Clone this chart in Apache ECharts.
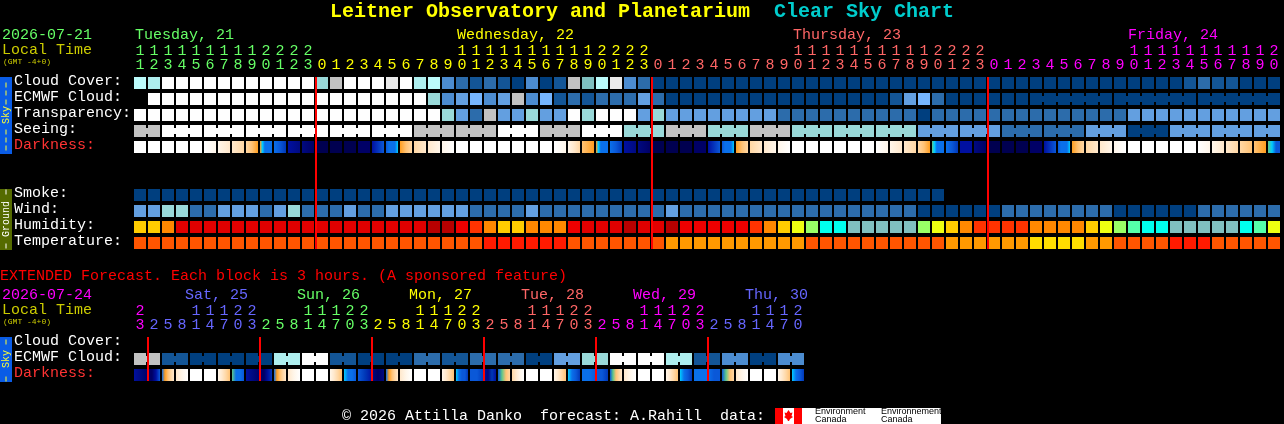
<!DOCTYPE html>
<html>
<head>
<meta charset="utf-8">
<style>html,body{margin:0;padding:0;background:#000}#c{width:1284px;height:424px}</style>
<script src="https://cdn.jsdelivr.net/npm/echarts@6/dist/echarts.min.js"></script>
</head>
<body>
<div id="c"></div>
<script>
/* ---------- hours along the axes ---------- */
const mainHours = [11,12,13,14,15,16,17,18,19,20,21,22,23,
  0,1,2,3,4,5,6,7,8,9,10,11,12,13,14,15,16,17,18,19,20,21,22,23,
  0,1,2,3,4,5,6,7,8,9,10,11,12,13,14,15,16,17,18,19,20,21,22,23,
  0,1,2,3,4,5,6,7,8,9,10,11,12,13,14,15,16,17,18,19,20];
const extHours = [23,
  2,5,8,11,14,17,20,23, 2,5,8,11,14,17,20,23, 2,5,8,11,14,17,20,23,
  2,5,8,11,14,17,20,23, 2,5,8,11,14,17,20,23, 2,5,8,11,14,17,20];
const mainDayColors = ['#66ff66','#ffff00','#ff6666','#ff00ff'];
const extDayColors = ['#ff00ff','#6666ff','#66ff66','#ffff00','#ff6666','#ff00ff','#6666ff'];
const mainDays = [['Tuesday, 21',135],['Wednesday, 22',457],['Thursday, 23',793],['Friday, 24',1128]];
const extDays = [['Sat, 25',185],['Sun, 26',297],['Mon, 27',409],['Tue, 28',521],['Wed, 29',633],['Thu, 30',745]];
const mainRows = ['Cloud Cover:','ECMWF Cloud:','Transparency:','Seeing:','Darkness:','','','Smoke:','Wind:','Humidity:','Temperature:'];
const extRows = ['Cloud Cover:','ECMWF Cloud:','Darkness:'];
const mainMidnights = [13,37,61];
const extMidnights = [1,9,17,25,33,41];

/* ---------- colour scales ---------- */
const skyScale = ['#003f7f','#135596','#2c6cab','#4c8cd0','#639fe0','#76b6ff','#7fbfbf','#99d9d9','#aeeeee','#bbfbfb','#c2c2c2','#eaeaea','#fefefe'];
const humidScale = ['#b80000','#e00000','#ee0000','#ff3300','#ff8800','#ffcc00','#eeff11','#99ff66','#55ffaa','#00ffee','#80bfbf'];
const tempScale = ['#ff1a00','#ff5500','#ff9900','#ffdd00'];
const darkScale = ['#ffffff','#fff6ea','#ffe8cc','#ffd7a4','#ffc274','#ff9e20','#5fc88a','#00ccff','#0a70ea','#0a58d8','#0038b8','#0010a0','#000a80','#000066','#000050'];

/* ---------- main forecast ---------- */
const cloudCover = [9,8,12,12,12,12,12,12,12,12,12,12,12,7,10,12,12,12,11,12,8,9,3,2,1,2,1,0,3,0,1,10,6,9,11,3,2,
  0,0,0,0,0,0,0,0,0,0,0,0,0,0,0,0,0,0,0,0,0,0,0,0,0,0,0,0,0,0,0,0,0,0,0,0,0,0,1,2,1,1,0,0,0];
const ecmwfCloud = [-1,12,12,12,12,12,12,12,12,12,12,12,12,12,12,12,12,12,12,12,12,7,3,4,5,3,4,10,3,5,1,2,1,2,2,2,4,2,
  0,0,0,0,0,0,0,0,0,0,0,0,0,0,0,0,1,4,5,2,0,0,0,0,0,0,0,0,0,0,0,0,0,0,0,0,0,0,0,0,0,0,0,0];
const ecmwfSpans = [1,1,1,1,1,1,1,1,1,1,1,1,1,1,1,1,1,1,1,1,1,1,1,1,1,1,1,1,1,1,1,1,1,1,1,1,1,1,1,1,1,1,1,1,1,1,1,1,1,1,1,1,1,1,1,1,1,1,1,1,1,1,1,1,6,6,6];
const transparency = [12,12,12,12,12,12,12,12,12,12,12,12,12,12,12,12,12,12,12,12,12,12,7,4,2,10,4,4,7,4,4,12,7,12,12,12,4,7,
  4,4,4,4,4,4,4,4,2,2,2,2,2,2,2,2,2,2,0,2,2,2,2,2,2,2,2,2,2,2,2,2,2,4,4,4,4,4,4,4,4,4,4,4];
const seeing = [10,10,12,12,12,12,12,12,12,12,12,12,12,12,12,12,12,12,12,12,10,10,10,10,10,10,12,12,12,10,10,10,12,12,12,7,7,7,
  10,10,10,7,7,7,10,10,10,7,7,7,7,7,7,7,7,7,4,4,4,4,4,4,2,2,2,2,2,2,4,4,4,0,0,0,4,4,4,4,4,4,4,4];
const seeingSpans = [2,3,3,3,3,3,3,3,3,3,3,3,3,3,3,3,3,3,3,3,3,3,3,3,3,3,3,2];
const darkness = [[0],[0],[0],[0],[0],[0,1],[1,2],[2,3],[3,4,5],[5,7,8,8,8,8],[8,9,10],[11,12],[12,13],
  [14],[14],[14],[13],[11,9],[9,8,8,8,7],[5,4,3],[3,2],[2,1],[1,0],
  [0],[0],[0],[0],[0],[0],[0],[0,1],[1,2,3],[4,5],[5,7,8,8,8,8],[8,9,10],[11,12],[12,13],
  [14],[14],[14],[13],[11,9],[9,8,8,8,7],[5,4,3],[3,2],[2,1],[1,0],
  [0],[0],[0],[0],[0],[0],[0,1],[1,2],[2,3],[3,4,5],[6,7,8,8,8,8],[8,9,10],[11,11],[12,13],
  [14],[14],[14],[13],[11,9],[9,8,8,8,7],[5,4,3],[3,2],[2,1],[1,0],
  [0],[0],[0],[0],[0],[0,1],[1,2],[2,3],[3,4],[4,5],[6,7,9,9]];
const smoke = [0,0,0,0,0,0,0,0,0,0,0,0,0,0,0,0,0,0,0,0,0,0,0,0,0,0,0,0,0,0,0,0,0,0,0,0,0,0,0,0,0,0,0,0,0,0,0,0,0,0,0,0,0,0,0,0,0,0];
const wind = [4,4,7,7,2,2,4,4,4,2,4,7,2,2,2,4,2,2,4,4,4,4,4,4,2,2,2,2,4,2,2,2,2,2,2,2,2,2,4,
  2,2,2,2,2,2,2,2,2,2,2,2,2,2,2,2,2,0,0,0,0,0,0,2,2,2,2,2,2,2,2,0,0,0,0,0,0,2,2,2,2,2,2];
const humidity = [5,5,4,1,1,1,1,1,1,1,1,1,1,1,1,1,1,1,1,1,1,0,0,2,3,4,5,5,4,4,4,2,1,1,1,0,1,1,0,2,2,2,2,2,3,4,5,6,7,9,9,10,
  10,10,10,10,7,6,5,4,3,3,3,3,4,4,4,4,5,6,7,8,9,9,10,10,10,10,10,9,8,6];
const temperature = [1,1,1,1,1,1,1,1,1,1,1,1,1,1,1,1,1,1,1,1,1,1,1,1,1,0,0,0,0,0,0,1,1,1,1,1,1,1,2,2,2,2,2,2,2,2,2,2,1,1,1,1,
  1,1,1,1,1,1,2,2,2,2,2,2,3,3,3,3,2,2,1,1,1,1,0,0,0,1,1,1,1,1];

/* ---------- extended forecast ---------- */
const extEcmwf = [10,10,1,1,0,0,0,0,0,0,8,8,12,12,1,1,0,0,0,0,2,2,1,1,2,2,2,2,0,0,4,4,7,7,12,12,12,12,8,8,1,1,3,3,0,0,3,3];
const extEcmwfSpans = [2,2,2,2,2,2,2,2,2,2,2,2,2,2,2,2,2,2,2,2,2,2,2,2];
const extDarkness = [[11,12,13],[13,13,11,9],[8,5,4,3,2],[2,1,0],[0],[0],[1,2,3,4],[6,8,8,9],[11,12,13],[13,13,11,10],
  [8,5,4,3,2],[2,1,0],[0],[0],[1,2,3,4],[7,8,8,9],[9,10,11],[12,13,12],[8,5,4,3,2],[2,1,0],[0],[0],[1,2,3,4],[7,8,9,9,10],
  [9,9,10],[11,12,10,11],[9,6,4,3],[3,2,1,0],[0],[0],[1,2,3,4],[7,8,9,10],[8,8,9],[9,9,10],[9,6,4,3,2],[2,1,0],[0],[0],
  [1,2,3,4],[7,8,9,10],[8,8,8],[8,9,9],[9,6,4,3],[2,1,0],[0],[0],[1,2,3,4],[7,8,9,10]];
const extDarkJoined = [0,8,16,24,32,40];

/* ---------- helpers ---------- */
const mono = '"Liberation Mono"';
function dayColorsOf(hours, colors) {
  let d = 0;
  return hours.map((h, i) => {
    if (i > 0 && h < hours[i - 1]) d++;
    return colors[d];
  });
}
function joinsFromSpans(spans) {
  const j = {}; let c = 0;
  spans.forEach(s => { for (let k = 0; k < s - 1; k++) j[c + k] = true; c += s; });
  return j;
}
function solidRow(row, vals, scale, spans) {
  const joins = spans ? joinsFromSpans(spans) : {};
  const out = [];
  vals.forEach((v, c) => {
    if (v < 0) return;
    out.push({value: [c, row], fill: scale[v], join: !!(joins[c] && vals[c + 1] === v)});
  });
  return out;
}
function cellSeries(gi, data) {
  return {type: 'custom', xAxisIndex: gi * 2, yAxisIndex: gi, data: data.map(d => d.value), silent: true, animation: false, z: 2, encode: {x: 0, y: 1},
    renderItem(params, api) {
      const d = data[params.dataIndex];
      const p = api.coord([api.value(0), api.value(1)]);
      const s = api.size([1, 1]);
      const x = p[0] - 6, y = p[1] - 6;
      const children = [{type: 'rect', shape: {x: x, y: y, width: 12, height: 12}, style: {fill: d.fill}}];
      if (d.join) children.push({type: 'rect', shape: {x: x + 12, y: y + 3, width: s[0] - 12, height: 6}, style: {fill: d.fill}});
      return {type: 'group', children: children};
    }};
}
function darkSeries(gi, row, vals, joined) {
  return {type: 'custom', xAxisIndex: gi * 2, yAxisIndex: gi, data: vals.map((v, c) => [c, row]), silent: true, animation: false, z: 2, encode: {x: 0, y: 1},
    renderItem(params, api) {
      const c = api.value(0);
      const p = api.coord([c, api.value(1)]);
      const s = api.size([1, 1]);
      const stops = vals[c];
      const w = joined.indexOf(c) >= 0 ? s[0] : 12;
      const fill = stops.length === 1 ? darkScale[stops[0]] : {
        type: 'linear', x: 0, y: 0, x2: 1, y2: 0, global: false,
        colorStops: stops.map((v, i) => ({offset: i / (stops.length - 1), color: darkScale[v]}))
      };
      return {type: 'rect', shape: {x: p[0] - 6, y: p[1] - 6, width: w, height: 12}, style: {fill: fill}};
    }};
}
function lineSeries(gi, cols, lastRow) {
  return {type: 'custom', xAxisIndex: gi * 2, yAxisIndex: gi, data: cols.map(c => [c]), silent: true, animation: false, z: 5, encode: {x: 0},
    renderItem(params, api) {
      const a = api.coord([api.value(0), 0]);
      const b = api.coord([api.value(0), lastRow]);
      return {type: 'rect', shape: {x: a[0] - 7, y: a[1] - 6, width: 2, height: b[1] - a[1] + 12}, style: {fill: '#ff0000'}};
    }};
}
function xAxes(gi, hours, dayColors, units) {
  const colors = dayColorsOf(hours, dayColors);
  const labels = units
    ? hours.map(h => String(h % 10))
    : hours.map(h => h >= 10 ? String(Math.floor(h / 10)) : ' ');
  return {
    type: 'category', gridIndex: gi, position: 'top', offset: units ? 0 : 14, data: labels,
    axisLine: {show: false}, axisTick: {show: false}, splitLine: {show: false},
    axisLabel: {interval: 0, margin: 2, fontFamily: mono, fontSize: 15, hideOverlap: false,
      color: (v, i) => colors[i]}
  };
}
function yAxisOf(gi, rows) {
  return {
    type: 'category', gridIndex: gi, inverse: true, data: rows.map((r, i) => i + ':' + r),
    axisLine: {show: false}, axisTick: {show: false}, splitLine: {show: false},
    axisLabel: {interval: 0, margin: 119, align: 'left', fontFamily: mono, fontSize: 15,
      verticalAlign: 'bottom', lineHeight: 4,
      formatter: v => v.slice(v.indexOf(':') + 1),
      color: v => v.indexOf('Darkness') >= 0 ? '#ff3333' : '#ffffff'}
  };
}
function text(t, x, y, fill, size) {
  return {type: 'text', x: x, y: y, silent: true, z: 10,
    style: {text: t, fill: fill, font: (size.bold ? 'bold ' : '') + size.px + 'px ' + (size.family || mono), verticalAlign: 'middle', align: 'left'}};
}
function rect(x, y, w, h, fill) {
  return {type: 'rect', silent: true, z: 8, shape: {x: x, y: y, width: w, height: h}, style: {fill: fill}};
}
function vertical(t, cx, cy, fill) {
  return {type: 'text', x: cx, y: cy, rotation: Math.PI / 2, silent: true, z: 10,
    style: {text: t, fill: fill, font: '10px ' + mono, align: 'center', verticalAlign: 'middle'}};
}
function dashes(ys, fill) {
  return ys.map(y => Object.assign(rect(5.5, y - 2.5, 1, 5, fill), {z: 10}));
}

/* ---------- page furniture ---------- */
const graphics = [
  text('Leitner Observatory and Planetarium', 330, 12, '#ffff00', {px: 20, bold: true}),
  text('Clear Sky Chart', 774, 12, '#00cccc', {px: 20, bold: true}),
  text('2026-07-21', 2, 35, '#66ff66', {px: 15}),
  text('Local Time', 2, 50, '#cccc00', {px: 15}),
  text('(GMT -4+0)', 3, 62, '#cccc00', {px: 8}),
  text('EXTENDED Forecast. Each block is 3 hours. (A sponsored feature)', 0, 276, '#ff0000', {px: 15}),
  text('2026-07-24', 2, 295, '#ff00ff', {px: 15}),
  text('Local Time', 2, 310, '#cccc00', {px: 15}),
  text('(GMT -4+0)', 3, 322, '#cccc00', {px: 8}),
  text('\u00a9 2026 Attilla Danko  forecast: A.Rahill  data:', 342, 416, '#ffffff', {px: 15}),
  rect(0, 77, 12, 77, '#0a5ce6'),
  vertical('Sky', 6, 115, '#ffff33'),
  rect(0, 189, 12, 61, '#556b00'),
  vertical('Ground', 6, 219, '#ffffff'),
  rect(0, 337, 12, 45, '#0a5ce6'),
  vertical('Sky', 6, 359, '#ffff33'),
  rect(775, 408, 166, 16, '#ffffff'),
  rect(775, 408, 8, 16, '#ff0000'),
  rect(794, 408, 8, 16, '#ff0000'),
  {type: 'polygon', silent: true, z: 9, shape: {points: [[788.5,410],[790.5,413],[792.5,412.5],[791.5,416],[793,417],[790,419],[789,421],[788,421],[787,419],[784,417],[785.5,416],[784.5,412.5],[786.5,413]]}, style: {fill: '#ff0000'}},
  text('Environment', 815, 412, '#000000', {px: 9, family: '"Liberation Sans"'}),
  text('Canada', 815, 420, '#000000', {px: 9, family: '"Liberation Sans"'}),
  text('Environnement', 881, 412, '#000000', {px: 9, family: '"Liberation Sans"'}),
  text('Canada', 881, 420, '#000000', {px: 9, family: '"Liberation Sans"'})
].concat(
  dashes([85,93,102,132,140,148], '#ffff33'),
  dashes([192,246], '#ffffff'),
  dashes([342,379], '#ffff33')
);
mainDays.forEach((d, i) => graphics.push(text(d[0], d[1], 35, mainDayColors[i], {px: 15})));
extDays.forEach((d, i) => graphics.push(text(d[0], d[1], 295, extDayColors[i + 1], {px: 15})));

const chart = echarts.init(document.getElementById('c'), null, {renderer: 'canvas', width: 1284, height: 424});
chart.setOption({
  backgroundColor: '#000000',
  animation: false,
  tooltip: {show: false},
  grid: [
    {left: 133, top: 75, width: 1148, height: 176, containLabel: false},
    {left: 133, top: 335, width: 672, height: 48, containLabel: false}
  ],
  xAxis: [
    xAxes(0, mainHours, mainDayColors, true), xAxes(0, mainHours, mainDayColors, false),
    xAxes(1, extHours, extDayColors, true), xAxes(1, extHours, extDayColors, false)
  ],
  yAxis: [yAxisOf(0, mainRows), yAxisOf(1, extRows)],
  series: [
    cellSeries(0, [].concat(
      solidRow(0, cloudCover, skyScale),
      solidRow(1, ecmwfCloud, skyScale, ecmwfSpans),
      solidRow(2, transparency, skyScale),
      solidRow(3, seeing, skyScale, seeingSpans),
      solidRow(7, smoke, skyScale),
      solidRow(8, wind, skyScale),
      solidRow(9, humidity, humidScale),
      solidRow(10, temperature, tempScale))),
    darkSeries(0, 4, darkness, []),
    lineSeries(0, mainMidnights, 10),
    cellSeries(1, solidRow(1, extEcmwf, skyScale, extEcmwfSpans)),
    darkSeries(1, 2, extDarkness, extDarkJoined),
    lineSeries(1, extMidnights, 2)
  ],
  graphic: {elements: graphics}
});
</script>
</body>
</html>
